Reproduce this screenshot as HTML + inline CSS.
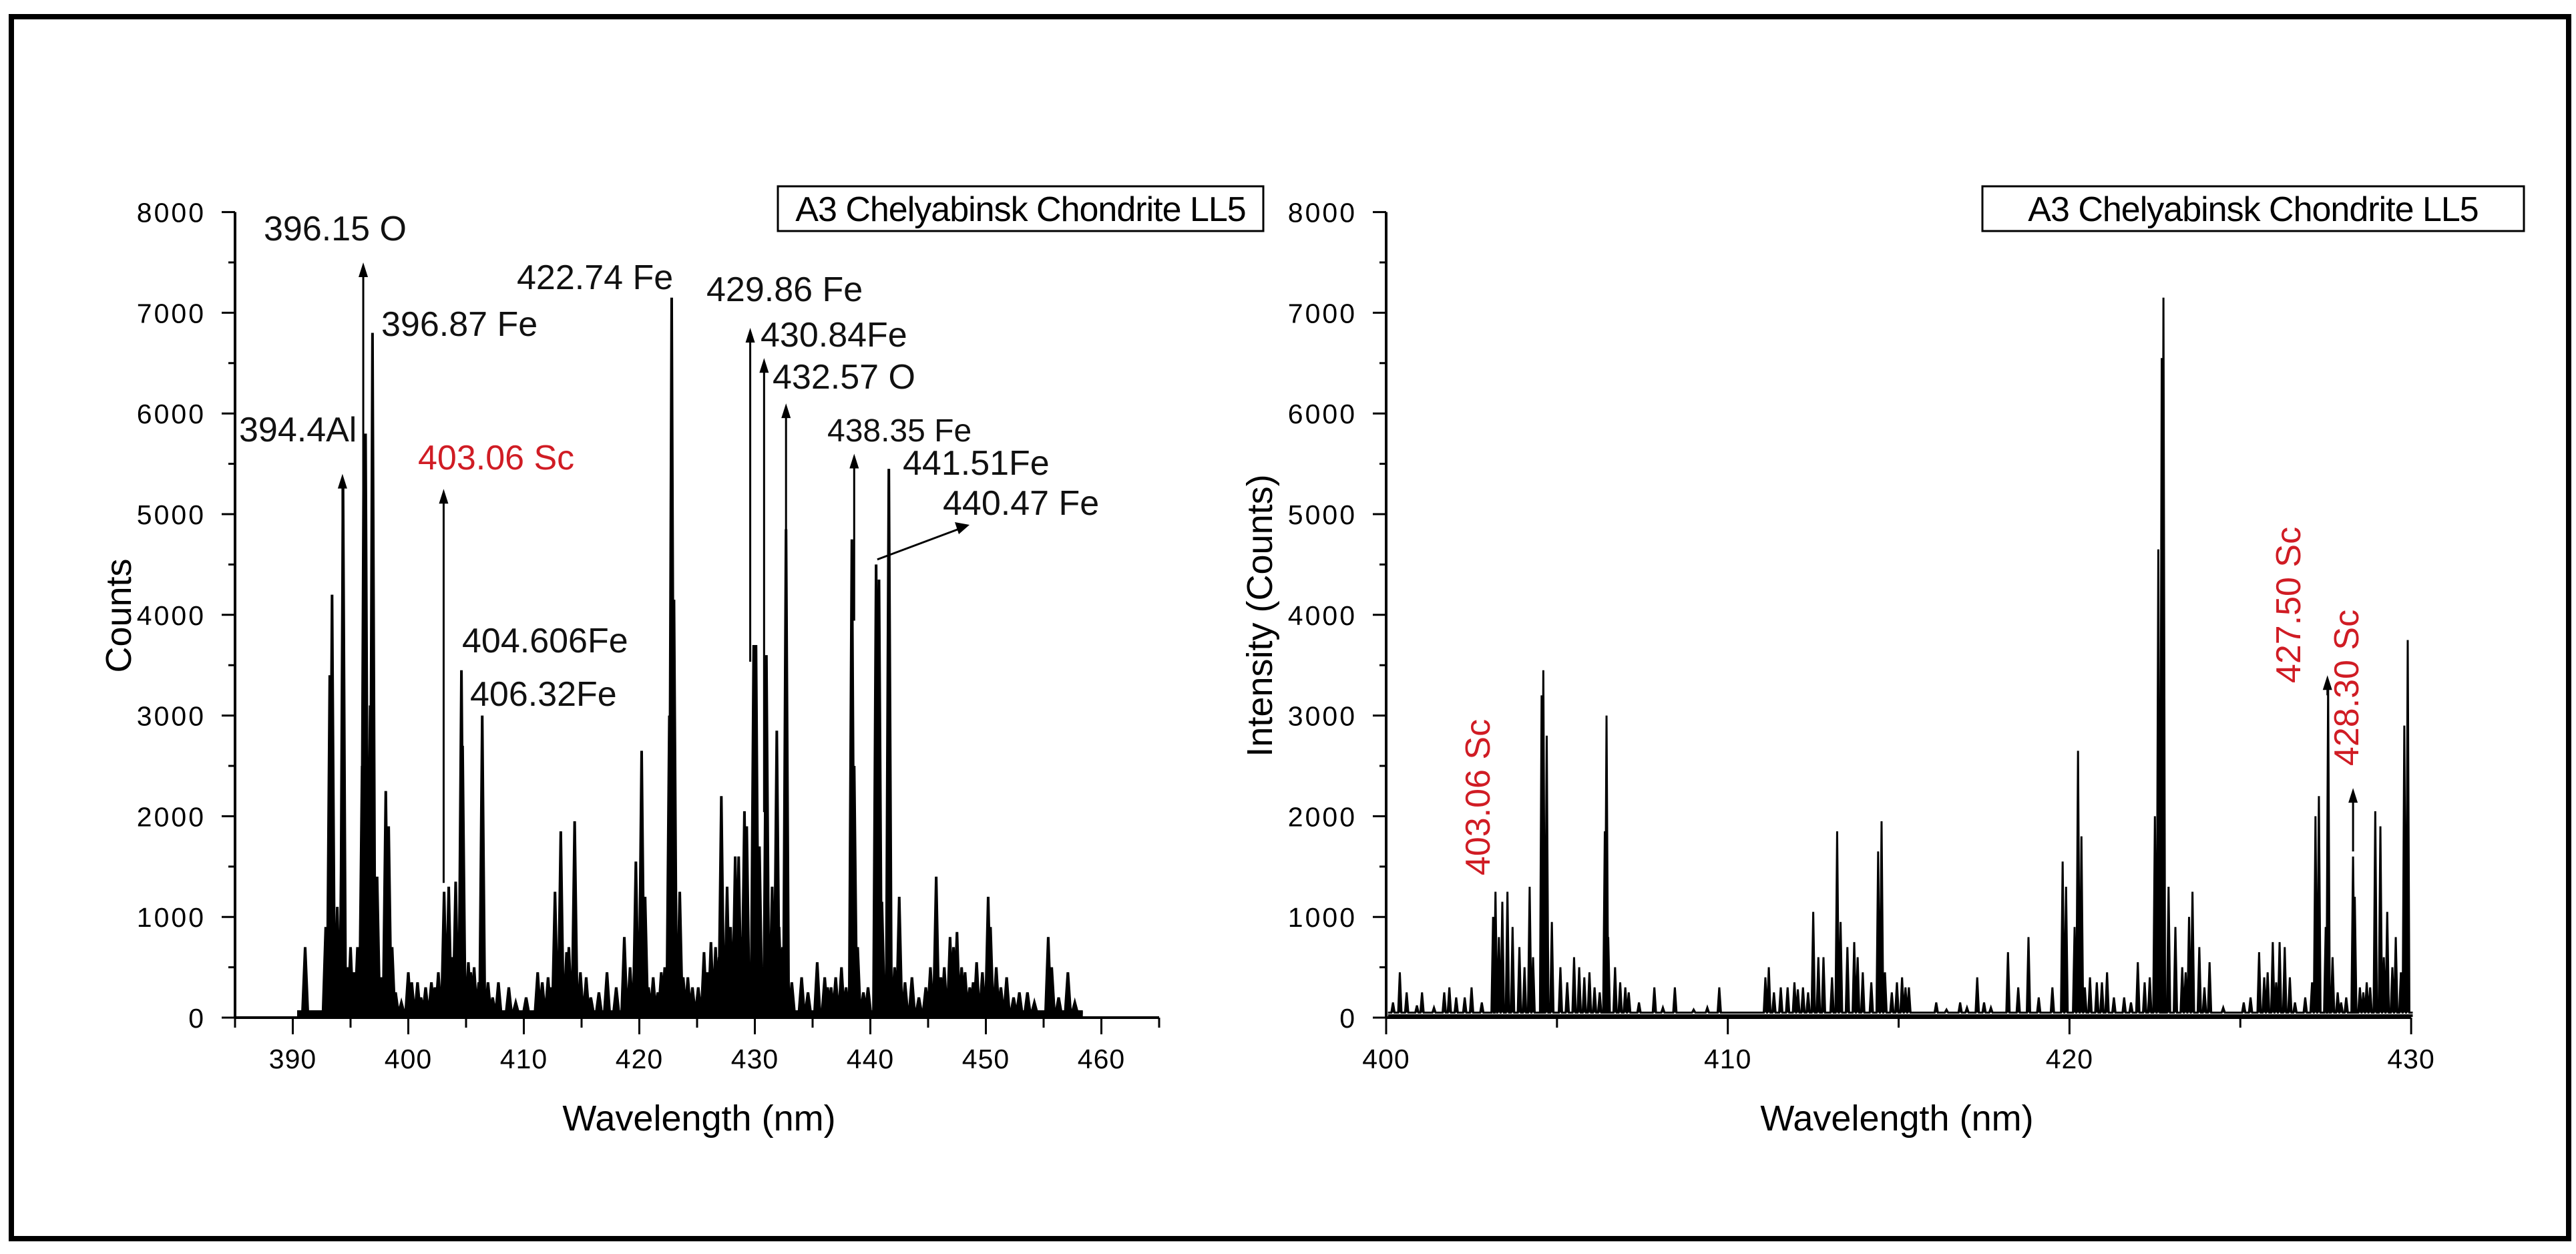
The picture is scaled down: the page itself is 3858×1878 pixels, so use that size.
<!DOCTYPE html>
<html><head><meta charset="utf-8"><style>
html,body{margin:0;padding:0;background:#fff;}
svg{display:block;font-family:"Liberation Sans",Arial,sans-serif;}
</style></head><body>
<svg id="fig" width="3858" height="1878" viewBox="0 0 3858 1878" xmlns="http://www.w3.org/2000/svg">
<rect x="17" y="25" width="3830" height="1830" fill="none" stroke="#000" stroke-width="8"/>
<g id="left"></g>
<g id="right"></g>
</svg>
<script>
// ---------- LEFT CHART DATA ----------
const leftWl = [391.07,392.85,393.2,393.4,393.85,394.3,394.35,395.0,395.6,396.0,396.15,396.3,396.7,396.9,397.3,398.05,398.3,398.6,400.0,400.3,400.8,401.5,402.0,402.6,403.1,403.5,404.1,404.6,404.7,405.2,405.7,406.4,406.9,407.8,408.7,410.2,411.2,412.1,412.7,413.2,413.7,414.4,414.9,415.4,417.2,418.7,419.7,420.2,420.5,421.2,421.9,422.6,422.8,423.0,423.5,424.2,425.1,425.6,426.2,427.1,427.6,428.3,428.6,429.1,429.3,429.9,430.1,430.4,431.0,431.5,431.9,432.4,432.7,434.05,435.4,436.05,436.6,437.5,438.4,438.6,438.9,440.5,440.75,441.0,441.6,442.5,443.6,445.2,445.7,446.4,446.9,447.5,447.9,448.6,449.2,449.7,450.2,450.4,450.9,451.8,452.9,453.6,455.4,455.7,457.1,457.7];
const leftCounts = [700,900,3400,4200,1100,2950,5300,700,700,2500,5800,5800,3100,6800,1400,2250,1900,700,450,350,350,300,350,450,1250,1300,1350,3450,2700,550,500,3000,350,350,300,200,450,400,1250,1850,650,1950,450,400,450,800,1550,2650,1200,400,450,3000,7150,4150,1250,400,300,650,750,2200,1300,1600,1600,2050,1900,3700,3700,1700,3600,1300,2850,700,4850,400,550,400,300,500,4750,2500,700,4500,4350,1150,5450,1200,400,500,1400,500,800,850,500,300,550,450,1200,900,500,400,250,250,800,500,450,150];
const leftNoiseWl = [393.6,394.7,395.3,397.7,398.9,399.4,401.1,402.3,403.8,405.0,405.4,406.1,407.3,409.3,411.6,412.4,413.0,413.9,414.1,415.8,416.5,418.0,419.2,420.8,421.6,422.2,423.8,424.6,425.9,426.6,426.9,427.9,428.9,432.1,433.2,434.6,436.3,437.0,437.9,439.4,439.8,442.1,443.0,444.2,444.8,446.1,447.2,448.2,448.9,451.3,452.4,454.2,456.3];
const leftNoiseCounts = [600,500,450,400,250,150,200,300,600,400,450,350,200,150,350,300,600,700,400,200,250,300,500,300,250,500,400,300,450,700,600,900,800,900,350,250,300,400,300,250,300,500,350,200,300,400,700,450,350,300,200,150,200];
const leftXTicks = [390,400,410,420,430,440,450,460];
const leftYTicks = [0,1000,2000,3000,4000,5000,6000,7000,8000];
const leftLabels = ["396.15 O","396.87 Fe","394.4Al","403.06 Sc","422.74 Fe","429.86 Fe","430.84Fe","432.57 O","438.35 Fe","441.51Fe","440.47 Fe","404.606Fe","406.32Fe"];
const leftArrowWl = [394.3,396.1,403.06,429.6,430.8,432.7,438.6];
const leftArrowTop = [5400,7500,5250,6850,6550,6100,5600];

// ---------- RIGHT CHART DATA ----------
const rightWl = [400.4,400.6,401.05,401.7,401.85,402.05,402.5,403.13,403.2,403.4,403.55,403.7,404.2,404.3,404.55,404.6,404.7,404.85,405.1,405.5,405.65,405.95,406.1,406.4,406.45,406.5,406.7,406.85,407.1,407.85,408.45,409.75,411.1,411.2,411.55,411.95,412.2,412.5,412.65,412.8,413.2,413.3,413.5,413.7,413.8,414.4,414.5,414.6,414.95,415.1,415.3,416.1,416.8,417.3,417.7,418.2,418.8,419.8,419.9,420.15,420.25,420.35,420.6,420.8,421.1,421.6,422.0,422.2,422.5,422.6,422.7,422.75,422.9,423.3,423.5,423.6,423.8,424.1,425.1,425.55,425.95,426.15,426.3,426.6,427.2,427.3,427.5,427.57,427.7,427.95,428.3,428.35,428.5,428.7,428.95,429.1,429.3,429.55,429.8,429.9];
const rightCounts = [450,250,250,250,300,200,300,1000,1250,1150,1250,900,1300,600,3200,3450,2800,950,500,600,500,450,300,1850,3000,800,500,350,250,300,300,300,400,500,300,350,300,1050,600,600,1850,950,700,750,600,1650,1950,450,350,400,300,150,150,400,100,650,800,1550,1300,900,2650,1800,400,350,450,200,550,350,2000,4650,6550,7150,1300,500,1000,1250,700,550,150,650,750,750,700,150,2000,2200,900,3300,600,150,1600,1200,300,350,2050,1900,1050,800,2900,3750];
const rightNoiseWl = [400.2,400.9,401.4,402.3,402.8,403.3,403.9,404.05,405.3,405.8,406.25,407.0,407.4,408.1,409.0,409.4,411.35,411.75,412.05,412.35,413.05,413.95,414.2,414.8,415.2,416.4,417.0,417.5,418.5,419.1,419.5,420.45,420.95,421.3,421.8,422.35,423.1,423.4,423.95,424.5,425.3,425.7,425.8,426.05,426.45,426.9,427.1,427.85,428.1,428.6,428.8,429.2,429.45,429.7];
const rightNoiseCounts = [150,120,100,200,150,800,700,500,350,400,250,300,150,100,80,100,250,300,280,250,400,450,350,250,300,80,100,150,300,200,300,300,350,200,150,400,900,450,300,100,200,400,450,350,400,200,350,250,200,250,300,600,500,450];
const rightXTicks = [400,410,420,430];
const rightYTicks = [0,1000,2000,3000,4000,5000,6000,7000,8000];
const rightLabels = ["403.06 Sc","427.50 Sc","428.30 Sc"];
const rightArrowWl = [427.55,428.3];
const rightArrowTop = [3400,2280];

const NS="http://www.w3.org/2000/svg";
function mk(parent,tag,attrs,text){const e=document.createElementNS(NS,tag);for(const k in attrs)e.setAttribute(k,attrs[k]);if(text!==undefined)e.textContent=text;parent.appendChild(e);return e;}

function drawAxes(g,cfg){
  const sx=w=>cfg.x0+(w-cfg.wmin)*cfg.kx;
  const sy=c=>cfg.y0-c*cfg.ky;
  const all=[];
  cfg.wl.forEach((w,i)=>all.push([w,cfg.cnt[i]]));
  cfg.nwl.forEach((w,i)=>all.push([w,cfg.ncnt[i]]));
  all.sort((a,b)=>a[0]-b[0]);
  const hw=cfg.hw, base=50;
  let pts=[];
  pts.push((sx(all[0][0])-3*hw)+","+sy(base));
  for(let i=0;i<all.length;i++){
    const x=sx(all[i][0]);
    pts.push((x-hw)+","+sy(base));
    pts.push(x+","+sy(all[i][1]));
    pts.push((x+hw)+","+sy(base));
  }
  pts.push((sx(all[all.length-1][0])+3*hw)+","+sy(base));
  const sp=mk(g,"polyline",{points:pts.join(" "),fill:"#000",stroke:"#000","stroke-width":cfg.sw,"stroke-linejoin":"miter"});
  
  
  const bl=mk(g,"line",{x1:sx(all[0][0])-3*hw,y1:cfg.y0-cfg.bw/2-1,x2:sx(all[all.length-1][0])+3*hw,y2:cfg.y0-cfg.bw/2-1,stroke:"#000","stroke-width":cfg.bw});
  
  
  const ax=mk(g,"line",{x1:cfg.x0,y1:cfg.y0,x2:sx(cfg.wmax),y2:cfg.y0,stroke:"#000","stroke-width":4});
  
  
  const ay=mk(g,"line",{x1:cfg.x0,y1:cfg.y0,x2:cfg.x0,y2:sy(8000),stroke:"#000","stroke-width":4});
  
  
  for(let w=cfg.wmin;w<=cfg.wmax+0.01;w+=5){
    const major=cfg.xt.includes(w);
    const t=mk(g,"line",{x1:sx(w),y1:cfg.y0,x2:sx(w),y2:cfg.y0+(major?25:15),stroke:"#000","stroke-width":3});
    
    
  }
  cfg.xt.forEach(w=>{
    const t=mk(g,"text",{x:sx(w),y:cfg.y0+76,"font-size":41,"text-anchor":"middle","letter-spacing":1},String(w));
    
    
  });
  for(let c=0;c<=8000;c+=500){
    const major=c%1000===0;
    const t=mk(g,"line",{x1:cfg.x0,y1:sy(c),x2:cfg.x0-(major?20:10),y2:sy(c),stroke:"#000","stroke-width":3});
    
    
  }
  cfg.yt.forEach(c=>{
    const t=mk(g,"text",{x:cfg.x0-44,y:sy(c)+15,"font-size":41,"text-anchor":"end","letter-spacing":3},String(c));
    
    
  });
  const xl=mk(g,"text",{x:cfg.xlx,y:1693,"font-size":54,"text-anchor":"middle"},"Wavelength (nm)");
  
  
  const yl=mk(g,"text",{x:0,y:0,"font-size":54,"text-anchor":"middle",transform:"translate("+(cfg.ylx+19)+",922) rotate(-90)"},cfg.ytitle);
  
  
  const tb=mk(g,"rect",{x:cfg.tbx,y:279,width:cfg.tbw,height:67,fill:"#fff",stroke:"#000","stroke-width":3});
  
  
  const tt=mk(g,"text",{x:cfg.tbx+cfg.tbw/2,y:331,"font-size":52,"text-anchor":"middle","letter-spacing":-1},"A3 Chelyabinsk Chondrite LL5");
  
  
  return {sx,sy};
}

function arrow(g,x,yTop,yBot){
  const l=mk(g,"line",{x1:x,y1:yBot,x2:x,y2:yTop+14,stroke:"#000","stroke-width":3});
  
  
  const h=mk(g,"polygon",{points:(x-7)+","+(yTop+22)+" "+x+","+yTop+" "+(x+7)+","+(yTop+22),fill:"#000"});
  
  
}

// LEFT
const gl=document.getElementById("left");
const L=drawAxes(gl,{x0:352,y0:1524,kx:17.3,ky:0.1508,wmin:385,wmax:465,wl:leftWl,cnt:leftCounts,nwl:leftNoiseWl,ncnt:leftNoiseCounts,hw:4,sw:4,bw:10,xt:leftXTicks,yt:leftYTicks,xlx:1047,ylx:177,ytitle:"Counts",tbx:1165,tbw:727});
const leftPos=[[395,360],[571,503],[358,661],[626,703],[774,433],[1058,451],[1139,519],[1157,582],[1239,661],[1352,711],[1412,771],[692,977],[704,1057]];
leftLabels.forEach((s,i)=>{
  const t=mk(gl,"text",{x:leftPos[i][0],y:leftPos[i][1],"font-size":i===8?48:52,fill:i===3?"#d01c24":"#111"},s);
  
  
});
leftArrowWl.forEach((w,i)=>{
  arrow(gl,L.sx(w),L.sy(leftArrowTop[i]),L.sy(leftArrowTop[i])+ (i===1?930:i===2?590:i===0?420:i===3?500:i===4?680:250));
});
{
  const x1=L.sx(440.6),y1=L.sy(4550),x2=1452,y2=786;
  const l=mk(gl,"line",{x1:x1,y1:y1,x2:x2-10,y2:y2+4,stroke:"#000","stroke-width":3});
  
  
  const h=mk(gl,"polygon",{points:(x2-22)+","+(y2-4)+" "+x2+","+y2+" "+(x2-16)+","+(y2+14),fill:"#000"});
  
  
}

// RIGHT
const gr=document.getElementById("right");
const R=drawAxes(gr,{x0:2076,y0:1524,kx:51.17,ky:0.1508,wmin:400,wmax:430,wl:rightWl,cnt:rightCounts,nwl:rightNoiseWl,ncnt:rightNoiseCounts,hw:2.5,sw:3,bw:4,xt:rightXTicks,yt:rightYTicks,xlx:2841,ylx:1886,ytitle:"Intensity (Counts)",tbx:2969,tbw:811});
const rightPos=[[2231,1194],[3445,906],[3532,1030]];
rightLabels.forEach((s,i)=>{
  const t=mk(gr,"text",{x:0,y:0,"font-size":52,fill:"#d01c24","text-anchor":"middle",transform:"translate("+rightPos[i][0]+","+rightPos[i][1]+") rotate(-90)"},s);
  
  
});
rightArrowWl.forEach((w,i)=>{
  arrow(gr,R.sx(w),R.sy(rightArrowTop[i]),R.sy(rightArrowTop[i])+(i===0?30:95));
});
</script>
</body></html>
